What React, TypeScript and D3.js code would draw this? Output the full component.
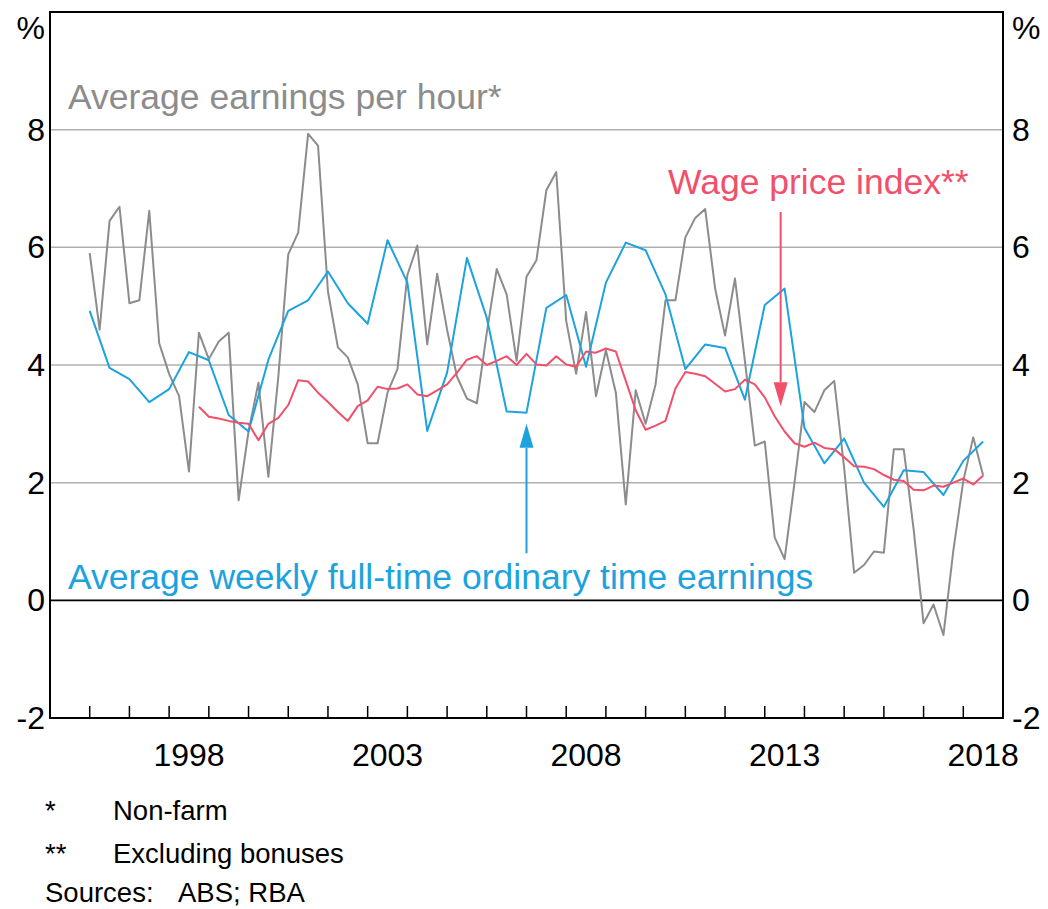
import React, { useEffect, useRef } from 'react';
import * as d3 from 'd3';

// Average earnings per hour (non-farm), quarterly from 1996 Q1
const aenaStart = 1996;
const aenaValues = [
  5.90, 4.60, 6.45, 6.69, 5.05, 5.10, 6.62, 4.37, 3.85, 3.47, 2.19, 4.55,
  4.10, 4.40, 4.55, 1.70, 2.87, 3.70, 2.10, 3.80, 5.88, 6.25, 7.93, 7.73,
  5.25, 4.30, 4.13, 3.67, 2.67, 2.67, 3.53, 3.93, 5.53, 6.03, 4.35, 5.55,
  4.60, 3.80, 3.43, 3.35, 4.55, 5.63, 5.20, 4.07, 5.50, 5.78, 6.97, 7.28,
  4.75, 3.85, 4.90, 3.47, 4.25, 3.53, 1.63, 3.57, 3.00, 3.67, 5.10, 5.10,
  6.17, 6.50, 6.65, 5.30, 4.50, 5.47, 4.07, 2.63, 2.70, 1.07, 0.70, 2.00,
  3.37, 3.20, 3.57, 3.73, 2.25, 0.47, 0.60, 0.83, 0.81, 2.57, 2.57, 1.20,
  -0.39, -0.07, -0.59, 0.85, 2.03, 2.77, 2.12,
];

// Average weekly full-time ordinary time earnings, half-yearly from 1996
const awoteStart = 1996;
const awoteValues = [
  4.92, 3.95, 3.76, 3.37, 3.59, 4.22, 4.08, 3.15, 2.87, 4.09, 4.92, 5.10,
  5.59, 5.05, 4.70, 6.12, 5.40, 2.88, 3.87, 5.82, 4.80, 3.21, 3.19, 4.97,
  5.19, 3.97, 5.40, 6.08, 5.95, 5.20, 3.93, 4.35, 4.29, 3.41, 5.02, 5.30,
  2.93, 2.33, 2.75, 2.00, 1.59, 2.21, 2.18, 1.79, 2.37, 2.70,
];

// Wage price index excluding bonuses, quarterly from 1998 Q4
const wpiStart = 1998.75;
const wpiValues = [
  3.29, 3.12, 3.09, 3.05, 3.02, 3.00, 2.72, 3.00, 3.10, 3.32, 3.74, 3.72,
  3.53, 3.37, 3.20, 3.05, 3.30, 3.40, 3.63, 3.59, 3.60, 3.67, 3.50, 3.47,
  3.57, 3.67, 3.87, 4.09, 4.15, 4.00, 4.07, 4.15, 4.00, 4.19, 4.01, 3.99,
  4.15, 4.01, 3.97, 4.23, 4.21, 4.28, 4.23, 3.73, 3.23, 2.90, 2.97, 3.05,
  3.60, 3.88, 3.85, 3.81, 3.68, 3.55, 3.59, 3.75, 3.67, 3.45, 3.13, 2.87,
  2.67, 2.61, 2.68, 2.59, 2.57, 2.43, 2.28, 2.27, 2.23, 2.13, 2.05, 2.03,
  1.88, 1.87, 1.95, 1.93, 2.00, 2.07, 1.97, 2.12,
];

const yTicks = [-2, 0, 2, 4, 6, 8];
const yearTicks = d3.range(1996, 2019);
const yearLabels = [1998, 2003, 2008, 2013, 2018];
const footnotes = [
  { mark: '*', text: 'Non-farm' },
  { mark: '**', text: 'Excluding bonuses' },
];

const GREY = '#8c8c8c';
const BLUE = '#1ca3de';
const RED = '#f24f6b';
const FONT = '"Liberation Sans", Arial, sans-serif';

type Pt = { date: number; value: number };

const toSeries = (start: number, step: number, values: number[]): Pt[] =>
  values.map((v, i) => ({ date: start + i * step, value: v }));

const App: React.FC = () => {
  const svgRef = useRef<SVGSVGElement>(null);

  useEffect(() => {
    if (!svgRef.current) return;

    const width = 1048;
    const height = 909;
    const margin = { top: 12, right: 45, bottom: 191, left: 50 };

    const svg = d3.select(svgRef.current);
    svg.selectAll('*').remove();

    const x = d3.scaleLinear()
      .domain([1995, 2019])
      .range([margin.left, width - margin.right]);

    const y = d3.scaleLinear()
      .domain([-2, 10])
      .range([height - margin.bottom, margin.top]);

    const x0 = x.range()[0];
    const x1 = x.range()[1];
    const yTop = y.range()[1];
    const yBot = y.range()[0];

    // gridlines
    svg.append('g')
      .selectAll('line')
      .data(yTicks.filter(d => d > -2 && d !== 0))
      .join('line')
      .attr('x1', x0).attr('x2', x1)
      .attr('y1', d => y(d)).attr('y2', d => y(d))
      .attr('stroke', '#b0b0b0')
      .attr('stroke-width', 1.5);

    // zero line
    svg.append('line')
      .attr('x1', x0).attr('x2', x1)
      .attr('y1', y(0)).attr('y2', y(0))
      .attr('stroke', '#000')
      .attr('stroke-width', 1.8);

    // year ticks along bottom
    svg.append('g')
      .selectAll('line')
      .data(yearTicks)
      .join('line')
      .attr('x1', d => x(d)).attr('x2', d => x(d))
      .attr('y1', yBot).attr('y2', yBot - 12)
      .attr('stroke', '#000')
      .attr('stroke-width', 1.5);

    const line = d3.line<Pt>()
      .x(d => x(d.date))
      .y(d => y(d.value));

    const series = [
      { data: toSeries(aenaStart, 0.25, aenaValues), color: GREY },
      { data: toSeries(awoteStart, 0.5, awoteValues), color: BLUE },
      { data: toSeries(wpiStart, 0.25, wpiValues), color: RED },
    ];

    series.forEach(s => {
      svg.append('path')
        .datum(s.data)
        .attr('fill', 'none')
        .attr('stroke', s.color)
        .attr('stroke-width', 2)
        .attr('stroke-linejoin', 'round')
        .attr('d', line);
    });

    // frame
    svg.append('rect')
      .attr('x', x0).attr('y', yTop)
      .attr('width', x1 - x0).attr('height', yBot - yTop)
      .attr('fill', 'none')
      .attr('stroke', '#000')
      .attr('stroke-width', 2);

    // y labels both sides
    const yLab = svg.append('g')
      .attr('font-family', FONT)
      .attr('font-size', 32)
      .attr('fill', '#000');

    yTicks.forEach(t => {
      yLab.append('text')
        .attr('x', x0 - 5).attr('y', y(t) + 11)
        .attr('text-anchor', 'end')
        .text(t);
      yLab.append('text')
        .attr('x', x1 + 9).attr('y', y(t) + 11)
        .text(t);
    });
    yLab.append('text').attr('x', x0 - 5).attr('y', 39).attr('text-anchor', 'end').text('%');
    yLab.append('text').attr('x', x1 + 9).attr('y', 39).text('%');

    // year labels, centred on each year
    yLab.selectAll('text.year')
      .data(yearLabels)
      .join('text')
      .attr('class', 'year')
      .attr('x', d => Math.min(x(d + 0.5), 984))
      .attr('y', yBot + 48)
      .attr('text-anchor', 'middle')
      .text(d => d);

    // series labels
    const lab = svg.append('g')
      .attr('font-family', FONT)
      .attr('font-size', 35.5);

    lab.append('text').attr('x', 68).attr('y', 109).attr('fill', GREY)
      .text('Average earnings per hour*');
    lab.append('text').attr('x', 668).attr('y', 194).attr('fill', RED)
      .text('Wage price index**');
    lab.append('text').attr('x', 68).attr('y', 589).attr('fill', BLUE)
      .text('Average weekly full-time ordinary time earnings');

    // arrows: line from label, head pointing at the series
    const arrow = (xd: number, from: number, to: number, color: string) => {
      const up = to > from;
      const tipY = y(to);
      const baseY = up ? tipY + 24 : tipY - 24;
      svg.append('line')
        .attr('x1', x(xd)).attr('x2', x(xd))
        .attr('y1', y(from)).attr('y2', baseY)
        .attr('stroke', color)
        .attr('stroke-width', 2);
      svg.append('path')
        .attr('d', `M${x(xd)},${tipY} L${x(xd) - 7},${baseY} L${x(xd) + 7},${baseY} Z`)
        .attr('fill', color);
    };
    arrow(2007.0, 0.8, 3.0, BLUE);
    arrow(2013.4, 6.6, 3.3, RED);

    // footnotes
    const foot = svg.append('g')
      .attr('font-family', FONT)
      .attr('font-size', 27.5)
      .attr('fill', '#000');

    footnotes.forEach((f, i) => {
      const yy = 820 + i * 43;
      foot.append('text').attr('x', 45).attr('y', yy).text(f.mark);
      foot.append('text').attr('x', 113).attr('y', yy).text(f.text);
    });
    foot.append('text').attr('x', 45).attr('y', 902).text('Sources:');
    foot.append('text').attr('x', 178).attr('y', 902).text('ABS; RBA');
  }, []);

  return (
    <div style={{ position: 'absolute', left: 0, top: 0, width: 1048, height: 909, background: '#fff' }}>
      <svg ref={svgRef} width={1048} height={909} viewBox="0 0 1048 909" />
    </div>
  );
};

export default App;
